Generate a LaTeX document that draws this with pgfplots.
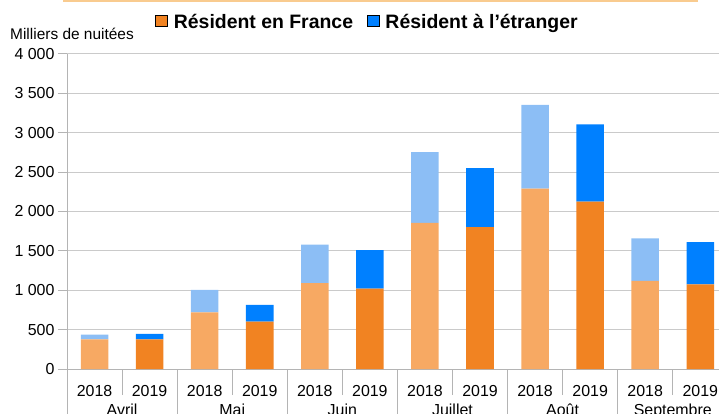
\documentclass[border=0pt]{standalone}
\usepackage{fontspec}
\setmainfont{Liberation Sans}
\usepackage{pgfplots}
\usepackage{pgfplotstable}
\pgfplotsset{compat=1.18}
\definecolor{orL}{HTML}{F7A963}
\definecolor{orD}{HTML}{F18322}
\definecolor{blL}{HTML}{8CBEF5}
\definecolor{blD}{HTML}{0080FF}
\definecolor{gridg}{HTML}{CACACA}
\definecolor{axg}{HTML}{B4B4B4}
\definecolor{topline}{HTML}{F9CB8F}
\pgfplotstableread{
x F18 F19 E18 E19
0 375 0 60 0
1 0 375 0 70
2 720 0 285 0
3 0 600 0 215
4 1090 0 490 0
5 0 1020 0 490
6 1855 0 900 0
7 0 1800 0 750
8 2290 0 1065 0
9 0 2125 0 980
10 1120 0 540 0
11 0 1075 0 535
}\data
\begin{document}
\begin{tikzpicture}
\useasboundingbox (0,0) rectangle (719bp,414bp);
\draw[line width=2bp, color=topline] (63bp,413bp) -- (698bp,413bp);
\node[anchor=base west, inner sep=0, font=\fontsize{15.5}{17}\selectfont] at (10bp,374bp) {Milliers de nuitées};
\begin{axis}[
  at={(67bp,45bp)}, anchor=south west,
  scale only axis, width=652bp, height=315bp,
  xmin=-0.5, xmax=11.34, ymin=0, ymax=4000,
  clip=false,
  ybar stacked, bar width=0.5,
  axis lines*=left,
  axis line style={color=axg, line width=1bp},
  xtick={0,...,11},
  xticklabels={2018,2019,2018,2019,2018,2019,2018,2019,2018,2019,2018,2019},
  xtick style={draw=none},
  ytick={0,500,...,4000},
  ytick style={color=axg, line width=1bp},
  tick align=outside, major tick length=9bp,
  ymajorgrids, grid style={color=gridg, line width=1bp},
  ticklabel style={font=\fontsize{16}{18}\selectfont},
  /pgf/number format/assume math mode=true,
  /pgf/number format/1000 sep={\ },
  xticklabel style={anchor=base, yshift=-18bp},
  yticklabel style={anchor=east},
  legend style={at={(0.461,1.101)}, anchor=center, draw=none, fill=none,
    legend columns=2, font=\bfseries\fontsize{19.5}{21}\selectfont,
    /tikz/every even column/.append style={column sep=12bp}},
  legend image code/.code={\fill[#1] (0bp,-4bp) rectangle (12bp,7bp); \path (16bp,0bp);},
]
\addplot[fill=orL, draw=none, forget plot] table[x=x, y=F18] {\data};
\addplot[fill=orD, draw=none, forget plot] table[x=x, y=F19] {\data};
\addplot[fill=blL, draw=none, forget plot] table[x=x, y=E18] {\data};
\addplot[fill=blD, draw=none, forget plot] table[x=x, y=E19] {\data};
\addlegendimage{fill=orD}
\addlegendentry{Résident en France}
\addlegendimage{fill=blD}
\addlegendentry{Résident à l’étranger}
\pgfplotsinvokeforeach{0.5,2.5,4.5,6.5,8.5,10.5}{
  \draw[axg, line width=1bp] (axis cs:#1,0) -- ([yshift=-26bp]axis cs:#1,0);
}
\pgfplotsinvokeforeach{-0.5,1.5,3.5,5.5,7.5,9.5}{
  \draw[axg, line width=1bp] (axis cs:#1,0) -- ([yshift=-50bp]axis cs:#1,0);
}
\node[anchor=base, font=\fontsize{16}{18}\selectfont] at ([yshift=-46bp]axis cs:0.5,0) {Avril};
\node[anchor=base, font=\fontsize{16}{18}\selectfont] at ([yshift=-46bp]axis cs:2.5,0) {Mai};
\node[anchor=base, font=\fontsize{16}{18}\selectfont] at ([yshift=-46bp]axis cs:4.5,0) {Juin};
\node[anchor=base, font=\fontsize{16}{18}\selectfont] at ([yshift=-46bp]axis cs:6.5,0) {Juillet};
\node[anchor=base, font=\fontsize{16}{18}\selectfont] at ([yshift=-46bp]axis cs:8.5,0) {Août};
\node[anchor=base, font=\fontsize{16}{18}\selectfont] at ([yshift=-46bp]axis cs:10.5,0) {Septembre};
\end{axis}
\end{tikzpicture}
\end{document}
